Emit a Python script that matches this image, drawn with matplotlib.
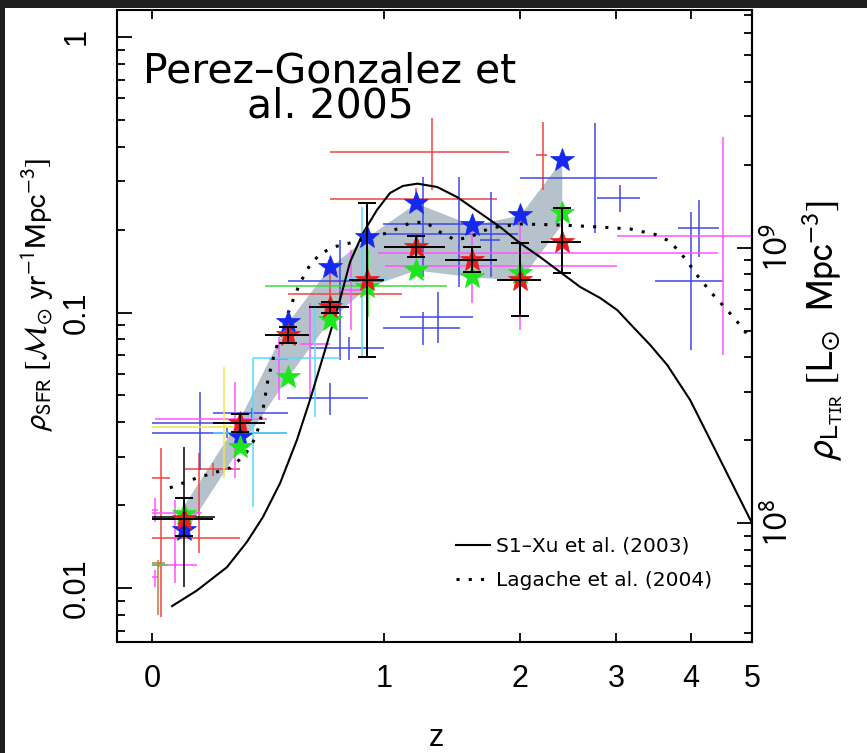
import numpy as np
import matplotlib
matplotlib.use("Agg")
import matplotlib.pyplot as plt
from matplotlib.lines import Line2D
from matplotlib.patches import Rectangle
from matplotlib.ticker import NullLocator

plt.rcParams["font.family"] = ["Liberation Sans", "DejaVu Sans"]
plt.rcParams["mathtext.fontset"] = "stixsans"

# --- star-formation-rate density points (z, z range, rho_SFR, rho range) ---
# stars: Perez-Gonzalez et al. binned values
bin_z = np.array([0.1, 0.3, 0.5, 0.7, 0.9, 1.2, 1.6, 2.0, 2.4])
bin_zlo = np.array([0.0, 0.2, 0.4, 0.6, 0.8, 1.0, 1.4, 1.8, 2.2])
bin_zhi = np.array([0.2, 0.4, 0.6, 0.8, 1.0, 1.4, 1.8, 2.2, 2.6])
star_red = np.array([0.0178, 0.0397, 0.0829, 0.1047, 0.1312, 0.1728, 0.1551, 0.1312, 0.1803])
star_blue = np.array([0.0162, 0.0353, 0.0923, 0.1463, 0.1879, 0.2497, 0.2078, 0.2258, 0.358])
star_green = np.array([0.0185, 0.0325, 0.0583, 0.0939, 0.1238, 0.1427, 0.1347, 0.1391, 0.2297])
red_lo = np.array([0.0154, 0.0369, 0.0775, 0.0996, 0.069, 0.159, 0.1403, 0.0971, 0.139])
red_hi = np.array([0.0212, 0.0428, 0.0886, 0.1092, 0.2497, 0.1895, 0.1728, 0.1788, 0.2394])
band_lo = np.array([0.0158, 0.0325, 0.0583, 0.0939, 0.1238, 0.1427, 0.1347, 0.1312, 0.2096])
band_hi = np.array([0.0200, 0.0414, 0.0923, 0.1463, 0.1879, 0.2497, 0.2078, 0.2258, 0.358])

# compilation of literature points, one set of arrays per colour
red_z = [1.31, 1.20, 2.21, 0.70, 0.15, 0.20, 0.027]
red_zlo = [0.70, 0.70, 2.15, 0.50, 0.0, 0.104, 0.0]
red_zhi = [1.90, 1.80, 2.25, 1.11, 0.30, 0.30, 0.055]
red_s = [0.383, 0.258, 0.373, 0.117, 0.0152, 0.0270, 0.0251]
red_slo = [0.278, 0.236, 0.278, 0.105, 0.0134, 0.0255, 0.00785]
red_shi = [0.508, 0.283, 0.491, 0.155, 0.0309, 0.0285, 0.0322]

blue_z = [0.154, 0.25, 0.35, 0.70, 0.80, 0.753, 1.247, 1.35, 1.502, 1.247, 1.754, 2.756, 3.049, 4.004, 4.125]
blue_zlo = [0.0, 0.0, 0.20, 0.497, 0.603, 0.50, 0.994, 1.098, 0.994, 1.006, 1.664, 2.0, 2.779, 3.494, 3.813]
blue_zhi = [0.251, 0.497, 0.50, 0.906, 1.0, 0.994, 1.51, 1.609, 2.0, 1.985, 1.829, 3.521, 3.297, 4.506, 4.441]
blue_s = [0.0397, 0.0365, 0.0432, 0.0489, 0.0743, 0.130, 0.0879, 0.0963, 0.2096, 0.1927, 0.1833, 0.308, 0.260, 0.130, 0.2026]
blue_slo = [0.0268, 0.035, 0.0415, 0.0424, 0.0672, 0.0672, 0.0762, 0.0775, 0.1238, 0.1346, 0.1346, 0.1943, 0.2316, 0.0731, 0.159]
blue_shi = [0.0514, 0.038, 0.045, 0.0555, 0.0815, 0.183, 0.1004, 0.1187, 0.310, 0.310, 0.2738, 0.487, 0.2903, 0.2316, 0.256]

mag_z = [4.506, 2.0, 1.6, 0.812, 0.603, 0.461, 0.281, 0.071, 0.07, 0.009, 0.009]
mag_zlo = [3.012, 0.964, 1.006, 0.75, 0.556, 0.42, 0.009, 0.0, 0.0, 0.0, 0.0]
mag_zhi = [5.0, 4.425, 3.012, 0.87, 0.70, 0.50, 0.41, 0.161, 0.144, 0.018, 0.018]
mag_s = [0.1896, 0.1644, 0.1475, 0.1207, 0.0769, 0.0678, 0.0411, 0.0187, 0.01213, 0.0192, 0.01096]
mag_slo = [0.0701, 0.0864, 0.1083, 0.0864, 0.0481, 0.0481, 0.0251, 0.01042, 0.0118, 0.01737, 0.01008]
mag_shi = [0.434, 0.2415, 0.2043, 0.1686, 0.1083, 0.0815, 0.0559, 0.0209, 0.0125, 0.0212, 0.01162]

cyan_z = [0.352, 0.873, 0.627]
cyan_zlo = [0.20, 0.769, 0.352]
cyan_zhi = [0.497, 1.018, 0.753]
cyan_s = [0.0365, 0.1334, 0.0684]
cyan_slo = [0.0197, 0.069, 0.0418]
cyan_shi = [0.0684, 0.2415, 0.1083]

yel_z, yel_zlo, yel_zhi = [0.24], [0.0], [0.312]
yel_s, yel_slo, yel_shi = [0.0384], [0.0251], [0.0634]

grn_z, grn_zlo, grn_zhi = [0.906, 0.02], [0.40, 0.0], [1.414, 0.05]
grn_s, grn_slo, grn_shi = [0.1248, 0.01213], [0.0963, 0.0119], [0.1686, 0.0123]

org_z, org_zlo, org_zhi = [0.018], [0.0], [0.04]
org_s, org_slo, org_shi = [0.01232], [0.00798], [0.01264]

blk_z, blk_zlo, blk_zhi = [0.1], [0.0], [0.207]
blk_s, blk_slo, blk_shi = [0.0181], [0.01008], [0.0325]

# model curves
xu_z = [0.062, 0.144, 0.251, 0.328, 0.393, 0.466, 0.542, 0.603, 0.677, 0.753, 0.807, 0.878,
        0.958, 1.036, 1.116, 1.21, 1.343, 1.487, 1.664, 1.829, 2.0, 2.187, 2.383, 2.592,
        2.813, 3.012, 3.207, 3.428, 3.658, 3.989, 4.296, 4.623, 5.0]
xu_s = [0.0086, 0.0098, 0.0119, 0.0147, 0.0181, 0.0240, 0.0345, 0.0481, 0.0731, 0.111, 0.1525,
        0.1943, 0.2355, 0.2715, 0.288, 0.2936, 0.2855, 0.2625, 0.2297, 0.2043, 0.1788, 0.159,
        0.1403, 0.1238, 0.1129, 0.1021, 0.0886, 0.0762, 0.0645, 0.0481, 0.0345, 0.0247, 0.0172]
lag_z = [0.055, 0.144, 0.263, 0.320, 0.364, 0.393, 0.414, 0.440, 0.475, 0.515, 0.556, 0.603,
         0.652, 0.718, 0.807, 0.918, 1.036, 1.161, 1.261, 1.364, 1.473, 1.586, 1.745, 2.0,
         2.383, 2.813, 3.170, 3.494, 3.699, 3.914, 4.109, 4.328, 4.556, 4.791, 5.0]
lag_s = [0.0231, 0.0251, 0.0273, 0.0304, 0.0353, 0.0443, 0.0569, 0.0701, 0.0864, 0.1065, 0.128,
         0.1487, 0.163, 0.1728, 0.1788, 0.1864, 0.196, 0.2113, 0.2131, 0.196, 0.1833, 0.1879,
         0.2026, 0.2096, 0.2078, 0.2043, 0.201, 0.192, 0.181, 0.157, 0.135, 0.117, 0.103,
         0.090, 0.079]

SFR_PER_L = 1.72e-10  # Kennicutt conversion, Msun/yr per Lsun


def fwd(z):
    return np.log10(1.0 + np.asarray(z, dtype=float))


def inv(u):
    return 10.0 ** np.asarray(u, dtype=float) - 1.0


fig = plt.figure(figsize=(8.67, 7.53), dpi=100, facecolor="#1e1e1e")
fig.add_artist(Rectangle((5 / 867, 0), 1, 745 / 753, transform=fig.transFigure,
                         facecolor="white", edgecolor="none", zorder=-1))
ax = fig.add_axes([117 / 867, 1 - 642 / 753, 635 / 867, 632 / 753])
ax.set_xscale("function", functions=(fwd, inv))
ax.set_yscale("log")
ax.set_xlim(-0.099, 5.0)
ax.set_ylim(0.00637, 1.253)

ax.fill_between(bin_z, band_lo, band_hi, color="#b5c2cb", lw=0, zorder=1)


def crosses(z, zlo, zhi, s, slo, shi, color):
    z, zlo, zhi, s, slo, shi = map(np.asarray, (z, zlo, zhi, s, slo, shi))
    ax.errorbar(z, s, xerr=[z - zlo, zhi - z], yerr=[s - slo, shi - s], fmt="none",
                ecolor=color, elinewidth=1.1, capsize=0, zorder=2)


crosses(red_z, red_zlo, red_zhi, red_s, red_slo, red_shi, "#f04444")
crosses(blue_z, blue_zlo, blue_zhi, blue_s, blue_slo, blue_shi, "#4048e6")
crosses(mag_z, mag_zlo, mag_zhi, mag_s, mag_slo, mag_shi, "#ff55ff")
crosses(cyan_z, cyan_zlo, cyan_zhi, cyan_s, cyan_slo, cyan_shi, "#55ddff")
crosses(yel_z, yel_zlo, yel_zhi, yel_s, yel_slo, yel_shi, "#f0e455")
crosses(grn_z, grn_zlo, grn_zhi, grn_s, grn_slo, grn_shi, "#3cdc3c")
crosses(org_z, org_zlo, org_zhi, org_s, org_slo, org_shi, "#c8783c")
crosses(blk_z, blk_zlo, blk_zhi, blk_s, blk_slo, blk_shi, "black")

ax.plot(xu_z, xu_s, color="black", lw=1.5, zorder=3)
ax.plot(lag_z, lag_s, color="black", lw=2.2, ls=(0, (1, 3)), zorder=3)

ax.plot(bin_z, star_blue, ls="none", marker="*", ms=18, color="#1428f0", mew=0.5, zorder=4)
ax.plot(bin_z, star_green, ls="none", marker="*", ms=18, color="#1ee61e", mew=0.5, zorder=4)
ax.plot(bin_z, star_red, ls="none", marker="*", ms=18, color="#e61e1e", mew=0.5, zorder=4)
ax.errorbar(bin_z, star_red, yerr=[star_red - red_lo, red_hi - star_red], fmt="none",
            ecolor="black", elinewidth=1.4, capsize=6.5, capthick=1.4, zorder=5)
ax.errorbar(bin_z, star_red, xerr=[bin_z - bin_zlo, bin_zhi - bin_z], fmt="none",
            ecolor="black", elinewidth=1.4, capsize=0, zorder=5)

# axes, ticks
for sp in ax.spines.values():
    sp.set_linewidth(1.5)
ax.set_xticks(range(6))
ax.set_xticklabels([str(i) for i in range(6)])
ax.xaxis.set_minor_locator(NullLocator())
ax.tick_params(axis="x", which="major", direction="in", length=6.5, width=1.3,
               top=True, labelsize=22, pad=16)
ax.set_yticks([0.01, 0.1, 1])
ax.set_yticklabels(["0.01", "0.1", "1"], rotation=90, va="center")
ax.tick_params(axis="y", which="major", direction="in", length=11, width=1.3,
               labelsize=22, pad=18, right=False)
ax.tick_params(axis="y", which="minor", direction="in", length=6, width=1.3, right=False)

sec = ax.secondary_yaxis("right", functions=(lambda s: s / SFR_PER_L, lambda l: l * SFR_PER_L))
sec.set_yticks([1e8, 1e9])
sec.set_yticklabels([r"$10^8$", r"$10^9$"], rotation=90, va="center")
sec.tick_params(which="major", direction="in", length=11, width=1.3, labelsize=25, pad=7)
sec.tick_params(which="minor", direction="in", length=6, width=1.3)
sec.spines["right"].set_linewidth(1.5)

fig.text(38 / 867, 1 - 295 / 753,
         r"$\rho_{\rm SFR}\ [\mathcal{M}_{\odot}\ {\rm yr}^{-1}{\rm Mpc}^{-3}]$",
         rotation=90, ha="center", va="center", fontsize=22)
fig.text(822 / 867, 1 - 330 / 753,
         r"$\rho_{{\rm L}_{\rm TIR}}\ [{\rm L}_{\odot}\ \ {\rm Mpc}^{-3}]$",
         rotation=90, ha="center", va="center", fontsize=27)
fig.text(436 / 867, 1 - 746 / 753, "z", ha="center", va="baseline", fontsize=22)

fig.text(330 / 867, 1 - 118 / 753, "Perez\u2013Gonzalez et\nal. 2005", ha="center",
         va="baseline", multialignment="center", fontsize=29.5, family="DejaVu Sans",
         linespacing=0.85)

handles = [Line2D([], [], color="black", lw=1.5),
           Line2D([], [], color="black", lw=2.2, ls=(0, (1, 3)))]
ax.legend(handles, ["S1\u2013Xu et al. (2003)", "Lagache et al. (2004)"],
          loc="lower right", bbox_to_anchor=((712 - 117) / 635, (642 - 590) / 632),
          frameon=False, prop={"family": "DejaVu Sans", "size": 14.5},
          handlelength=1.7, handletextpad=0.3, labelspacing=0.75,
          borderpad=0, borderaxespad=0)

fig.savefig("out.png", dpi=100, facecolor=fig.get_facecolor())
